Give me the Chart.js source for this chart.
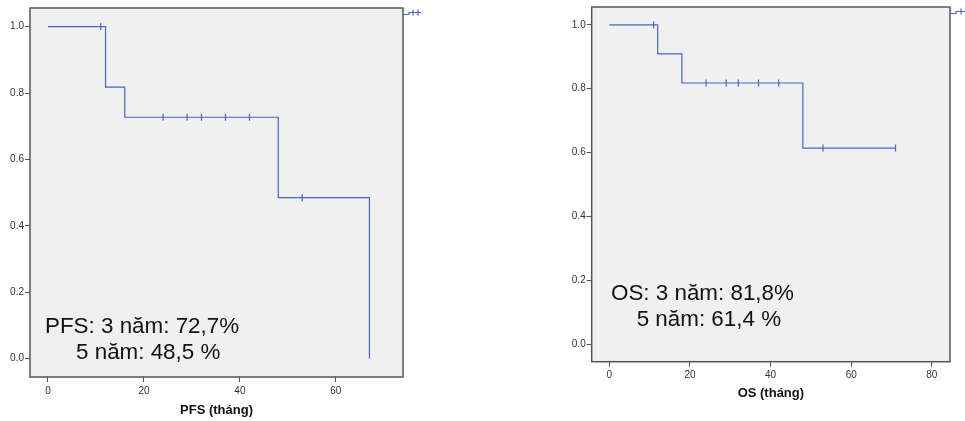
<!DOCTYPE html>
<html>
<head>
<meta charset="utf-8">
<script src="https://cdn.jsdelivr.net/npm/chart.js@4.4.1/dist/chart.umd.min.js"></script>
<style>
  body { margin: 0; background: #fff; width: 965px; height: 421px; overflow: hidden; position: relative; }
  .khung { position: absolute; top: 0; }
</style>
</head>
<body>
<div class="khung" style="left:0"><canvas id="bieuDoPFS" width="440" height="421"></canvas></div>
<div class="khung" style="left:540px"><canvas id="bieuDoOS" width="425" height="421"></canvas></div>
<script>
// ========== DU LIEU ==========
// PFS: thoi diem su kien (thang) va ti le song sau moi buoc
const pfsThoiGian = [0, 12, 16, 48, 67];
const pfsTiLe = [1.0, 0.818, 0.727, 0.485, 0.0];
const pfsKiemDuyetThoiGian = [11, 24, 29, 32, 37, 42, 53];
const pfsKiemDuyetTiLe = [1.0, 0.727, 0.727, 0.727, 0.727, 0.727, 0.485];

// OS
const osThoiGian = [0, 12, 18, 48, 71];
const osTiLe = [1.0, 0.909, 0.818, 0.614, 0.614];
const osKiemDuyetThoiGian = [11, 24, 29, 32, 37, 42, 53, 71];
const osKiemDuyetTiLe = [1.0, 0.818, 0.818, 0.818, 0.818, 0.818, 0.614, 0.614];

const yTicks = [0, 0.2, 0.4, 0.6, 0.8, 1.0];
const pfsXTicks = [0, 20, 40, 60];
const osXTicks = [0, 20, 40, 60, 80];

const pfsGhiChu = ['PFS: 3 năm: 72,7%', '5 năm: 48,5 %'];
const osGhiChu = ['OS: 3 năm: 81,8%', '5 năm: 61,4 %'];

// ========== MAU / FONT ==========
const MAU_DUONG = '#4666c0';
const MAU_VIEN = '#555555';
const MAU_NEN = '#f0f0f0';
const FONT = '"Liberation Sans", Arial, sans-serif';

function ghep(xs, ys) {
  return xs.map((x, i) => ({ x: x, y: ys[i] }));
}

// nen xam, vien khung, ghi chu va ky hieu chu giai nho
function pluginKhung(cfg) {
  return {
    id: 'khungSPSS',
    beforeDraw(chart) {
      const { ctx, chartArea: a } = chart;
      ctx.save();
      ctx.fillStyle = MAU_NEN;
      ctx.fillRect(a.left, a.top, a.right - a.left, a.bottom - a.top);
      ctx.restore();
    },
    afterDraw(chart) {
      const { ctx, chartArea: a } = chart;
      ctx.save();
      ctx.strokeStyle = MAU_VIEN;
      ctx.lineWidth = 1.5;
      ctx.strokeRect(a.left, a.top, a.right - a.left, a.bottom - a.top);

      // ghi chu
      ctx.fillStyle = '#111';
      ctx.font = '22.4px ' + FONT;
      ctx.textAlign = 'left';
      ctx.textBaseline = 'alphabetic';
      ctx.fillText(cfg.ghiChu[0], a.left + cfg.dong1[0], a.bottom + cfg.dong1[1]);
      ctx.fillText(cfg.ghiChu[1], a.left + cfg.dong2[0], a.bottom + cfg.dong2[1]);

      // ky hieu chu giai (bi cat) ben phai khung
      const x0 = a.right, y0 = a.top + 6;
      ctx.strokeStyle = MAU_DUONG;
      ctx.lineWidth = 1.2;
      ctx.beginPath();
      ctx.moveTo(x0, y0 + 0.5);
      ctx.lineTo(x0 + 6, y0 + 0.5);
      ctx.lineTo(x0 + 6, y0 - 1.5);
      ctx.lineTo(x0 + cfg.chuGiaiDai, y0 - 1.5);
      ctx.stroke();
      cfg.chuGiaiDau.forEach(dx => {
        ctx.beginPath();
        ctx.moveTo(x0 + dx, y0 - 4.5);
        ctx.lineTo(x0 + dx, y0 + 1.5);
        ctx.stroke();
      });
      ctx.restore();
    }
  };
}

function veKM(idCanvas, cfg) {
  const canvas = document.getElementById(idCanvas);
  if (!canvas) return;
  return new Chart(canvas, {
    type: 'line',
    data: {
      datasets: [{
        data: ghep(cfg.thoiGian, cfg.tiLe),
        stepped: true,
        borderColor: MAU_DUONG,
        borderWidth: 1.2,
        pointRadius: 0,
        fill: false
      }, {
        data: ghep(cfg.kdThoiGian, cfg.kdTiLe),
        showLine: false,
        pointStyle: 'line',
        rotation: 90,
        pointRadius: 3.5,
        pointBorderWidth: 1.2,
        borderColor: MAU_DUONG,
        backgroundColor: MAU_DUONG
      }]
    },
    options: {
      responsive: false,
      animation: false,
      events: [],
      layout: { padding: cfg.padding },
      plugins: { legend: { display: false }, tooltip: { enabled: false } },
      scales: {
        x: {
          type: 'linear',
          min: cfg.xMin,
          max: cfg.xMax,
          afterBuildTicks: ax => { ax.ticks = cfg.xTicks.map(v => ({ value: v })); },
          afterFit: ax => { ax.height = cfg.xCao; },
          grid: { drawOnChartArea: false, drawTicks: true, tickLength: 5, color: MAU_VIEN },
          border: { display: false },
          ticks: { padding: 3, color: '#333', font: { family: FONT, size: 10 }, maxRotation: 0 },
          title: {
            display: true,
            text: cfg.tieuDeX,
            color: '#111',
            font: { family: FONT, size: 13, weight: 'bold' },
            padding: { top: 0, bottom: cfg.tieuDeDuoi }
          }
        },
        y: {
          type: 'linear',
          min: -0.055,
          max: 1.056,
          afterBuildTicks: ax => { ax.ticks = yTicks.map(v => ({ value: v })); },
          afterFit: ax => { ax.width = 30; },
          grid: { drawOnChartArea: false, drawTicks: true, tickLength: 5, color: MAU_VIEN },
          border: { display: false },
          ticks: {
            padding: 1,
            color: '#333',
            font: { family: FONT, size: 10 },
            callback: v => v.toFixed(1)
          }
        }
      }
    },
    plugins: [pluginKhung(cfg)]
  });
}

veKM('bieuDoPFS', {
  thoiGian: pfsThoiGian, tiLe: pfsTiLe,
  kdThoiGian: pfsKiemDuyetThoiGian, kdTiLe: pfsKiemDuyetTiLe,
  xMin: -3.75, xMax: 74, xTicks: pfsXTicks,
  padding: { top: 8, right: 37, left: 0, bottom: 0 },
  xCao: 44, tieuDeX: 'PFS (tháng)', tieuDeDuoi: 3,
  ghiChu: pfsGhiChu, dong1: [15, -44], dong2: [46, -18],
  chuGiaiDai: 18, chuGiaiDau: [10, 15]
});

veKM('bieuDoOS', {
  thoiGian: osThoiGian, tiLe: osTiLe,
  kdThoiGian: osKiemDuyetThoiGian, kdTiLe: osKiemDuyetTiLe,
  xMin: -4.37, xMax: 84.5, xTicks: osXTicks,
  padding: { top: 6, right: 15, left: 21.7, bottom: 0 },
  xCao: 59.3, tieuDeX: 'OS (tháng)', tieuDeDuoi: 19.4,
  ghiChu: osGhiChu, dong1: [19.3, -61.7], dong2: [45, -35.7],
  chuGiaiDai: 15, chuGiaiDau: [11]
});
</script>
</body>
</html>
